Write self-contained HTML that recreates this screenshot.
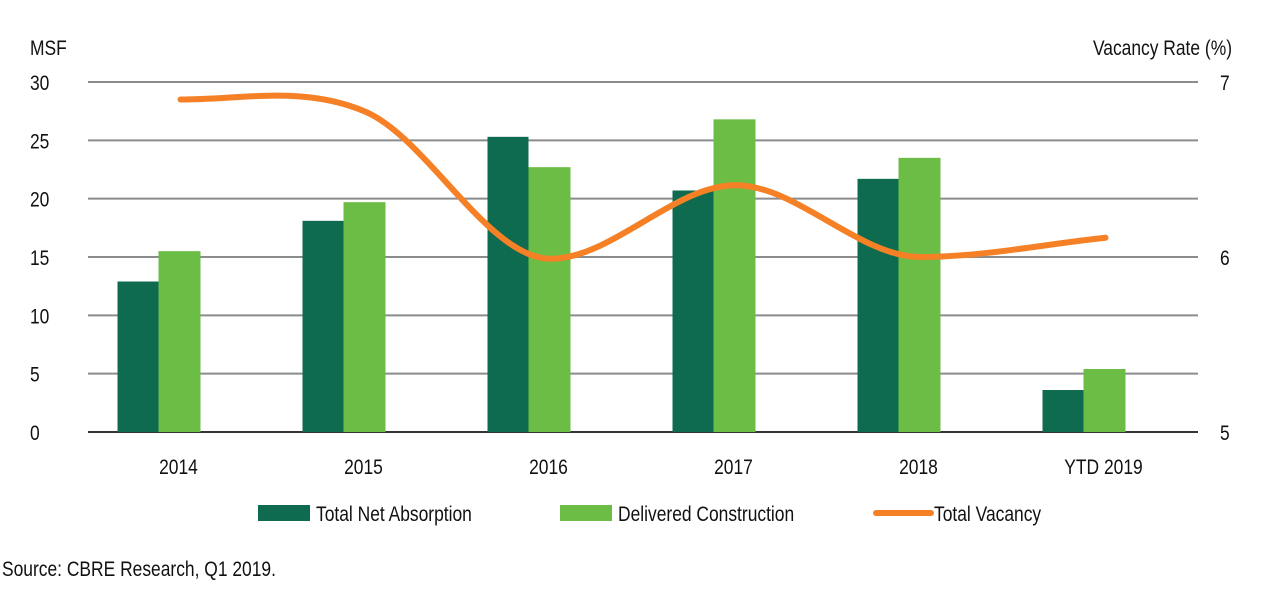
<!DOCTYPE html>
<html><head><meta charset="utf-8"><style>
body{margin:0;background:#fff;width:1263px;height:586px;overflow:hidden}
svg text{font-family:"Liberation Sans",sans-serif;fill:#111;font-size:21px}
</style></head><body>
<svg id="chart" width="1263" height="586" xmlns="http://www.w3.org/2000/svg">
<g id="grid"></g><g id="bars"></g><g id="line"></g><g id="labels"></g>
<g>
<rect x="258" y="505" width="52" height="16" fill="#0f6b4f"/>
<text transform="translate(316,521) scale(0.83,1)">Total Net Absorption</text>
<rect x="560" y="505" width="52" height="16" fill="#6cbd45"/>
<text transform="translate(618,521) scale(0.83,1)">Delivered Construction</text>
<line x1="876" y1="513" x2="931" y2="513" stroke="#f58025" stroke-width="6" stroke-linecap="round"/>
<text transform="translate(934,521) scale(0.83,1)">Total Vacancy</text>
</g>
<text transform="translate(30,55) scale(0.83,1)">MSF</text>
<text transform="translate(1232,55) scale(0.83,1)" text-anchor="end">Vacancy Rate (%)</text>
<text transform="translate(2,576) scale(0.83,1)">Source: CBRE Research, Q1 2019.</text>
</svg>
<script>
const categories=["2014","2015","2016","2017","2018","YTD 2019"];
const absorption=[12.9,18.1,25.3,20.7,21.7,3.6];
const construction=[15.5,19.7,22.7,26.8,23.5,5.4];
const vacancy=[6.9,6.83,5.99,6.41,6.0,6.11];
const leftTicks=[0,5,10,15,20,25,30];
const rightTicks=[5,6,7];
const NS="http://www.w3.org/2000/svg";
const X0=88,X1=1198,Y0=432,Y1=82;
const bw=(X1-X0)/categories.length;
const yL=v=>Y0-(v/30)*(Y0-Y1);
const yR=v=>Y0-((v-5)/2)*(Y0-Y1);
const xc=i=>X0+bw*(i+0.5);
function mk(t,a,p){const e=document.createElementNS(NS,t);for(const k in a)e.setAttribute(k,a[k]);p.appendChild(e);return e;}
const G=document.getElementById('grid'),B=document.getElementById('bars'),L=document.getElementById('line'),T=document.getElementById('labels');
function txt(x,y,s,anchor){const t=mk('text',{transform:`translate(${x},${y}) scale(0.83,1)`,'text-anchor':anchor||'start'},T);t.textContent=s;return t;}
leftTicks.forEach(v=>{
 const l=mk('line',{x1:X0,x2:X1,y1:yL(v),y2:yL(v),stroke:v===0?'#333':'#8a8c8e','stroke-width':2},G);
 
 
 const t=txt(30,yL(v)+8,String(v));
 
 
});
rightTicks.forEach(v=>{
 const t=txt(1220,yR(v)+8,String(v));
 
 
});
categories.forEach((c,i)=>{
 const c0=xc(i)-22;
 const a=mk('rect',{x:c0-41,y:yL(absorption[i]),width:41,height:Y0-yL(absorption[i]),fill:'#0f6b4f'},B);
 
 
 const d=mk('rect',{x:c0,y:yL(construction[i]),width:42,height:Y0-yL(construction[i]),fill:'#6cbd45'},B);
 
 
 const t=txt(xc(i)-2,474,c,'middle');
 
 
});
const pts=vacancy.map((v,i)=>[xc(i),yR(v)]);
// monotone-ish tangents
const m=pts.map((p,i)=>{
 if(i===0) return (pts[1][1]-p[1])/(pts[1][0]-p[0]);
 if(i===pts.length-1) return (p[1]-pts[i-1][1])/(p[0]-pts[i-1][0]);
 const s0=(p[1]-pts[i-1][1])/(p[0]-pts[i-1][0]),s1=(pts[i+1][1]-p[1])/(pts[i+1][0]-p[0]);
 return s0*s1<=0?0:(s0+s1)/2;
});
m[0]=0;
let d='M'+pts[0][0]+','+pts[0][1];
for(let i=0;i<pts.length-1;i++){
 const p1=pts[i],p2=pts[i+1],h=(p2[0]-p1[0])/3;
 d+=` C${p1[0]+h},${p1[1]+m[i]*h} ${p2[0]-h},${p2[1]-m[i+1]*h} ${p2[0]},${p2[1]}`;
}
const path=mk('path',{d:d,fill:'none',stroke:'#f58025','stroke-width':6,'stroke-linecap':'round'},L);


</script>
</body></html>
